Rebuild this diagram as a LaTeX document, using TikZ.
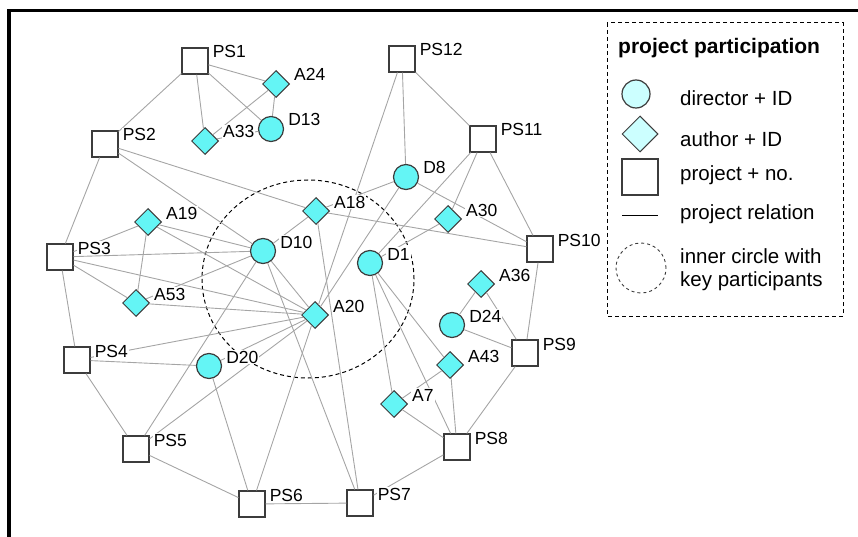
\documentclass[tikz,border=0pt]{standalone}
\usepackage{fontspec}
\setmainfont{Liberation Sans}
\usetikzlibrary{shapes.geometric}
\definecolor{nodecyan}{RGB}{100,245,245}
\definecolor{palecyan}{RGB}{204,255,255}
\definecolor{edgegray}{RGB}{165,165,165}
\definecolor{outl}{RGB}{60,60,60}
\begin{document}
\begin{tikzpicture}[x=1pt,y=-1pt,
  edge/.style={draw=edgegray,line width=0.9pt},
  proj/.style={rectangle,draw=outl,fill=white,line width=1.2pt,minimum size=26pt,inner sep=0pt},
  dir/.style={circle,draw=outl,fill=nodecyan,line width=1.2pt,minimum size=25pt,inner sep=0pt},
  auth/.style={diamond,draw=outl,fill=nodecyan,line width=1pt,minimum width=27pt,minimum height=27pt,inner sep=0pt,aspect=1},
  lab/.style={anchor=base west,fill=white,inner sep=1pt,text=black,font=\fontsize{17.5}{20}\selectfont},
  legtext/.style={anchor=base west,inner sep=0pt,text=black,font=\fontsize{20.5}{24}\selectfont},
  dashline/.style={dash pattern=on 4pt off 3pt,line width=1pt},
]
\useasboundingbox (0,0) rectangle (858,537);
% frame
\draw[line width=3.3pt] (9,537) -- (9,10.5) -- (858,10.5);
% inner circle
\draw[dashline] (308,279) ellipse [x radius=106pt, y radius=99pt];
% project nodes
\node[proj] (PS1) at (195,61) {};
\node[proj] (PS2) at (105,144) {};
\node[proj] (PS3) at (60,257) {};
\node[proj] (PS4) at (77,360) {};
\node[proj] (PS5) at (136,449) {};
\node[proj] (PS6) at (252,504) {};
\node[proj] (PS7) at (360,503) {};
\node[proj] (PS8) at (457,447) {};
\node[proj] (PS9) at (525,353) {};
\node[proj] (PS10) at (540,249) {};
\node[proj] (PS11) at (483,139) {};
\node[proj] (PS12) at (402,59) {};
% directors
\node[dir] (D13) at (271,129) {};
\node[dir] (D8) at (406,177) {};
\node[dir] (D10) at (263,251) {};
\node[dir] (D1) at (370,263) {};
\node[dir] (D20) at (209,366) {};
\node[dir] (D24) at (452,325) {};
% authors
\node[auth] (A24) at (276,84) {};
\node[auth] (A33) at (205,141) {};
\node[auth] (A19) at (148,222) {};
\node[auth] (A53) at (136,303) {};
\node[auth] (A18) at (316,211) {};
\node[auth] (A30) at (448,219) {};
\node[auth] (A20) at (315,315) {};
\node[auth] (A36) at (481,284) {};
\node[auth] (A43) at (450,365) {};
\node[auth] (A7) at (394,404) {};
% relations
\foreach \a/\b in {PS1/PS2,PS1/A24,PS1/D13,PS1/A33,A24/A33,A24/D13,A33/D13,
  PS2/PS3,PS2/A18,PS2/D10,PS3/PS4,PS3/A19,PS3/D10,PS3/A53,PS3/A20,
  A19/A53,A19/D10,A19/A20,A53/D10,A53/A20,D10/A18,D10/A20,D10/PS5,D10/PS7,
  PS4/PS5,PS4/A20,PS4/D20,D20/A20,D20/PS6,PS5/A20,PS5/PS6,PS6/PS7,PS6/A20,
  PS7/A18,PS7/PS8,PS8/A7,PS8/A43,PS8/D1,PS8/PS9,A7/A43,A7/D1,A43/D1,
  D1/A30,D1/PS11,A18/D8,A18/PS10,D8/PS12,D8/A20,D8/PS10,PS12/A20,PS12/PS11,
  PS11/A30,PS11/PS10,PS10/PS9,PS9/D24,PS9/A36,A36/D24}
  \draw[edge] (\a) -- (\b);
% labels
\foreach \n in {PS1,PS2,PS3,PS4,PS5,PS6,PS7,PS8,PS9,PS10,PS11,PS12,
  D13,D8,D10,D1,D20,D24,A24,A33,A19,A53,A18,A30,A20,A36,A43,A7}
  \node[lab] (l\n) at ([xshift=3pt,yshift=3pt]\n.east) {\n};
% legend
\draw[dashline] (607,23) rectangle (843,316);
\node[anchor=base west,inner sep=0pt,font=\bfseries\fontsize{21}{24}\selectfont] (legtitle) at (618,54) {project participation};
\node[dir,fill=palecyan,minimum size=28pt] (legD) at (636,94) {};
\node[auth,fill=palecyan,minimum width=36pt,minimum height=36pt] (legA) at (640,134) {};
\node[proj,minimum size=36pt] (legP) at (640,177) {};
\coordinate (legL1) at (622,216);
\coordinate (legL2) at (658,216);
\draw[line width=1pt] (legL1) -- (legL2);
\node[circle,draw=outl,dash pattern=on 3pt off 3pt,line width=0.9pt,minimum size=50pt,inner sep=0pt] (legC) at (641,268) {};
\node[legtext] (legt1) at (680,106) {director + ID};
\node[legtext] (legt2) at (680,147) {author + ID};
\node[legtext] (legt3) at (680,181) {project + no.};
\node[legtext] (legt4) at (680,219) {project relation};
\node[legtext] (legt5) at (680,263) {inner circle with};
\node[legtext] (legt6) at (680,286) {key participants};
\end{tikzpicture}
\end{document}
